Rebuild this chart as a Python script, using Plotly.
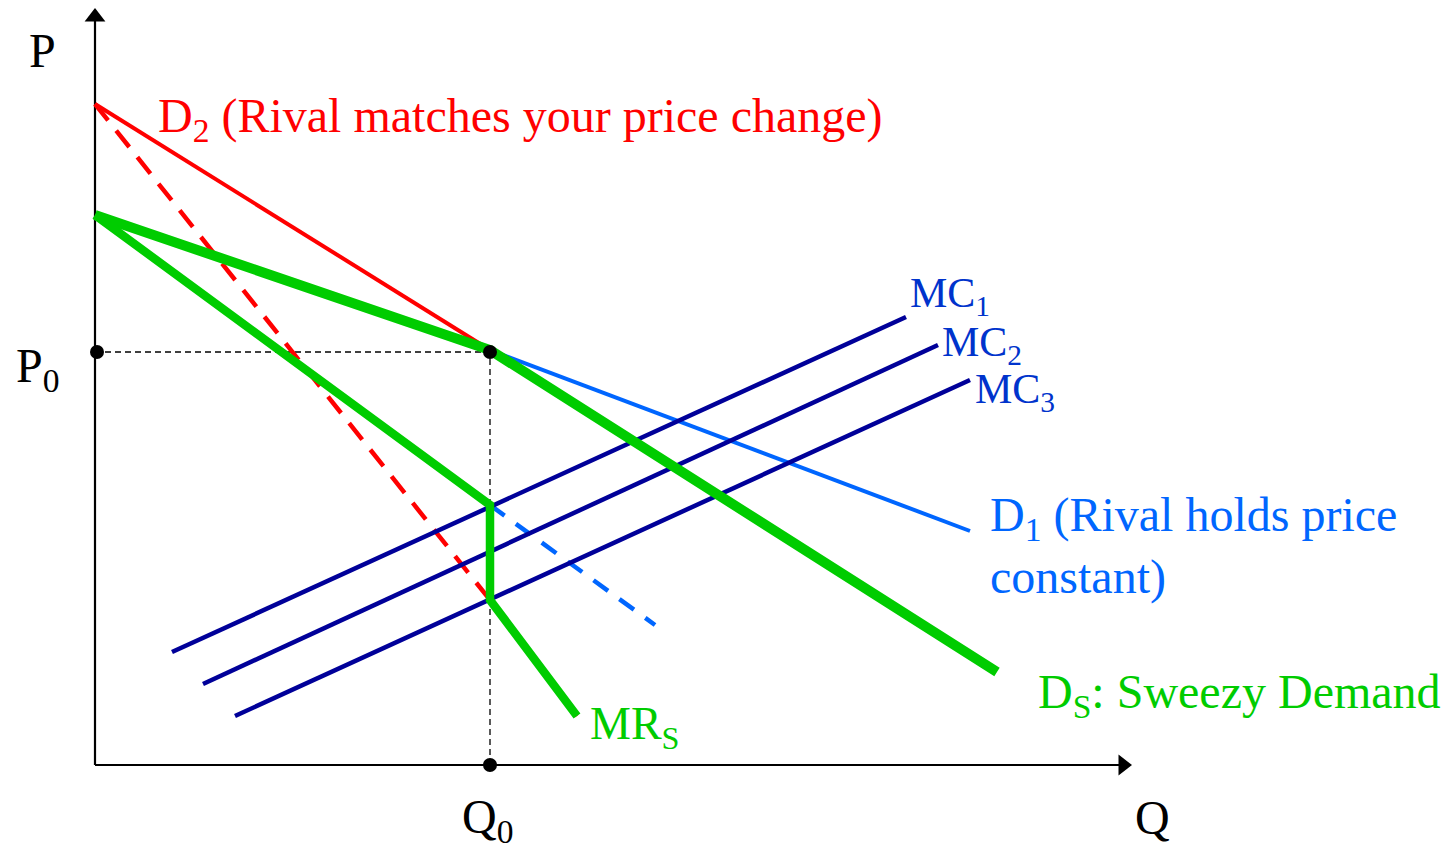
import plotly.graph_objects as go

# Diagram geometry (Q horizontal, P vertical)
P0 = 413
Q0 = 395
Q_AXIS_END = 1028
P_AXIS_END = 748

d2_q = [0, 395]
d2_p = [661, 415]

mr2_q = [0, 395]
mr2_p = [661, 165]
mr2_tail_q = [395, 482]
mr2_tail_p = [165, 49]

d1_q = [395, 875]
d1_p = [415, 234]

mr1_q = [395, 560]
mr1_p = [260, 140]

ds_q = [0, 395, 902]
ds_p = [550, 415, 93]

mrs_q = [0, 395, 395, 482]
mrs_p = [550, 260, 165, 49]

mc1_q = [77, 811]
mc1_p = [113, 448]
mc2_q = [108, 843]
mc2_p = [81, 420]
mc3_q = [140, 875]
mc3_p = [49, 385]

RED = "#ff0000"
GREEN = "#00cc00"
BLUE = "#0066ff"
NAVY = "#000099"
MCTXT = "#0033cc"
FONT = "Liberation Serif"

fig = go.Figure()

def line(x, y, color, width, dash="solid"):
    fig.add_trace(go.Scatter(x=x, y=y, mode="lines",
                             line=dict(color=color, width=width, dash=dash),
                             hoverinfo="skip", showlegend=False, cliponaxis=False))

# axes
line([0, 0], [0, P_AXIS_END], "black", 2.2)
line([0, Q_AXIS_END], [0, 0], "black", 2.2)
fig.add_trace(go.Scatter(x=[0], y=[P_AXIS_END], mode="markers",
                         marker=dict(symbol="triangle-up", size=18, color="black"),
                         hoverinfo="skip", showlegend=False, cliponaxis=False))
fig.add_trace(go.Scatter(x=[Q_AXIS_END], y=[0], mode="markers",
                         marker=dict(symbol="triangle-right", size=18, color="black"),
                         hoverinfo="skip", showlegend=False, cliponaxis=False))

# guide lines
line([0, Q0], [P0, P0], "black", 1.3, "6px,4px")
line([Q0, Q0], [0, P0], "black", 1.3, "6px,4px")

# red D2 and MR2
line(d2_q, d2_p, RED, 4)
line(mr2_q, mr2_p, RED, 4.5, "21px,13px")
line(mr2_tail_q, mr2_tail_p, RED, 4)

# blue D1 and MR1
line(d1_q, d1_p, BLUE, 4)
line(mr1_q, mr1_p, BLUE, 4.5, "18px,14px")

# MC curves
line(mc1_q, mc1_p, NAVY, 4.5)
line(mc2_q, mc2_p, NAVY, 4.5)
line(mc3_q, mc3_p, NAVY, 4.5)

# Sweezy demand and MR
line(ds_q, ds_p, GREEN, 10)
line(mrs_q, mrs_p, GREEN, 8.5)

# dots
fig.add_trace(go.Scatter(x=[2, Q0, Q0], y=[P0, P0, 0], mode="markers",
                         marker=dict(color="black", size=14),
                         hoverinfo="skip", showlegend=False, cliponaxis=False))

def label(x, y, text, color, size, xanchor="left", yanchor="middle", align="left"):
    fig.add_annotation(x=x, y=y, text=text, showarrow=False, xref="x", yref="y",
                       xanchor=xanchor, yanchor=yanchor, align=align,
                       font=dict(family=FONT, size=size, color=color))

label(-53, 715, "P", "black", 48, "center")
label(-57, 396, "P<sub>0</sub>", "black", 48, "center")
label(392, -55, "Q<sub>0</sub>", "black", 48, "center")
label(1057, -52, "Q", "black", 48, "center")
label(61, 646, "D<sub>2</sub> (Rival matches your price change)", RED, 48)
label(813, 469, "MC<sub>1</sub>", MCTXT, 42)
label(845, 420, "MC<sub>2</sub>", MCTXT, 42)
label(878, 373, "MC<sub>3</sub>", MCTXT, 42)
label(893, 219, "D<sub>1</sub> (Rival holds price<br>constant)", BLUE, 48)
label(941, 70, "D<sub>S</sub>: Sweezy Demand", GREEN, 48)
label(493, 38, "MR<sub>S</sub>", GREEN, 46)

# page body has an 8px margin: figure spans page pixels 8..1451 / 8..846
fig.update_layout(
    width=1443, height=838,
    margin=dict(l=0, r=0, t=0, b=0),
    paper_bgcolor="white", plot_bgcolor="white",
    xaxis=dict(range=[-87, 1356], visible=False, fixedrange=True),
    yaxis=dict(range=[-81, 757], visible=False, fixedrange=True),
)

fig.write_html("out.html")
